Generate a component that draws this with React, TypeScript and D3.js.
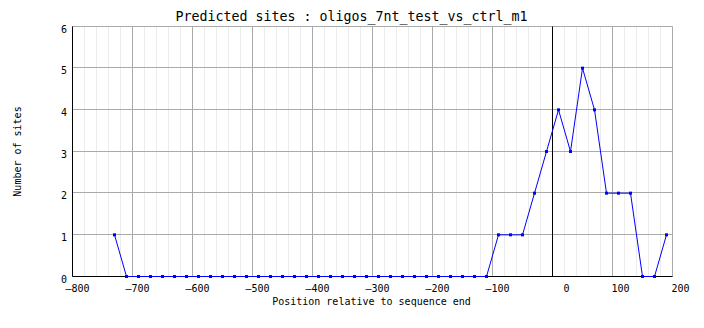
import React from "react";
import * as d3 from "d3";

const TITLE = "Predicted sites : oligos_7nt_test_vs_ctrl_m1";
const X_LABEL = "Position relative to sequence end";
const Y_LABEL = "Number of sites";

const positions = [
  -730, -710, -690, -670, -650, -630, -610, -590, -570, -550, -530, -510,
  -490, -470, -450, -430, -410, -390, -370, -350, -330, -310, -290, -270,
  -250, -230, -210, -190, -170, -150, -130, -110, -90, -70, -50, -30, -10,
  10, 30, 50, 70, 90, 110, 130, 150, 170, 190,
];
const sites = [
  1, 0, 0, 0, 0, 0, 0, 0, 0, 0, 0, 0,
  0, 0, 0, 0, 0, 0, 0, 0, 0, 0, 0, 0,
  0, 0, 0, 0, 0, 0, 0, 0, 1, 1, 1, 2, 3,
  4, 3, 5, 4, 2, 2, 2, 0, 0, 1,
];
const xTicks = [-800, -700, -600, -500, -400, -300, -200, -100, 0, 100, 200];
const yTicks = [0, 1, 2, 3, 4, 5, 6];
const xDomain = [-800, 200];
const yDomain = [0, 6];
const minorStep = 20;

const W = 704;
const H = 328;
const MONO = "'DejaVu Sans Mono', 'Liberation Mono', monospace";

export default function App() {
  const x = d3.scaleLinear().domain(xDomain).range([72, 672]);
  const y = d3.scaleLinear().domain(yDomain).range([276, 26]);
  const px = (v: number) => Math.floor(x(v) + 1e-6) + 0.5;
  const py = (v: number) => Math.floor(y(v) + 1e-6) + 0.5;

  const minor = d3.range(xDomain[0], xDomain[1] + 1, minorStep).filter((v) => v % 100 !== 0);
  const data = positions.map((p, i) => ({ p, v: sites[i] }));
  const line = d3
    .line<{ p: number; v: number }>()
    .x((d) => x(d.p) + 0.5)
    .y((d) => y(d.v) + 0.5);

  return (
    <svg
      width={W}
      height={H}
      style={{ position: "absolute", left: 0, top: 0, display: "block", background: "#fff" }}
    >
      <rect x={0} y={0} width={W} height={H} fill="#fff" />
      {minor.map((v) => (
        <line key={"m" + v} x1={px(v)} x2={px(v)} y1={py(6)} y2={py(0)} stroke="#ececec" strokeWidth={1} />
      ))}
      {xTicks.map((v) => (
        <line key={"gx" + v} x1={px(v)} x2={px(v)} y1={py(6)} y2={py(0)} stroke="#aaaaaa" strokeWidth={1} />
      ))}
      {yTicks.map((v) => (
        <line key={"gy" + v} x1={px(-800)} x2={px(200)} y1={py(v)} y2={py(v)} stroke="#aaaaaa" strokeWidth={1} />
      ))}
      {/* zero reference line */}
      <line x1={px(0)} x2={px(0)} y1={py(6)} y2={py(0)} stroke="#000" strokeWidth={1} />
      {/* axes */}
      <line x1={px(-800)} x2={px(-800)} y1={py(6)} y2={py(0)} stroke="#000" strokeWidth={1} />
      <line x1={px(-800)} x2={px(200)} y1={py(0)} y2={py(0)} stroke="#000" strokeWidth={1} />

      <path d={line(data) || ""} fill="none" stroke="#0000ff" strokeWidth={1} />
      {data.map((d, i) => (
        <rect key={"pt" + i} x={x(d.p) - 1} y={y(d.v) - 1} width={3} height={3} fill="#0000ff" />
      ))}

      {xTicks.map((v) => (
        <text
          key={"tx" + v}
          x={px(v) + 17}
          y={292}
          textAnchor="end"
          fontFamily={MONO}
          fontSize={10}
          fill="#000"
        >
          {String(v).replace("-", "\u2013")}
        </text>
      ))}
      {yTicks.map((v) => (
        <text
          key={"ty" + v}
          x={67}
          y={py(v) + 6.5}
          textAnchor="end"
          fontFamily={MONO}
          fontSize={10}
          fill="#000"
        >
          {v}
        </text>
      ))}

      <text x={351.5} y={21} textAnchor="middle" fontFamily={MONO} fontSize={13.3} fill="#000">
        {TITLE}
      </text>
      <text x={371.5} y={305} textAnchor="middle" fontFamily={MONO} fontSize={10} fill="#000">
        {X_LABEL}
      </text>
      <text
        transform={`translate(21,151.5) rotate(-90)`}
        textAnchor="middle"
        fontFamily={MONO}
        fontSize={10}
        fill="#000"
      >
        {Y_LABEL}
      </text>
    </svg>
  );
}
